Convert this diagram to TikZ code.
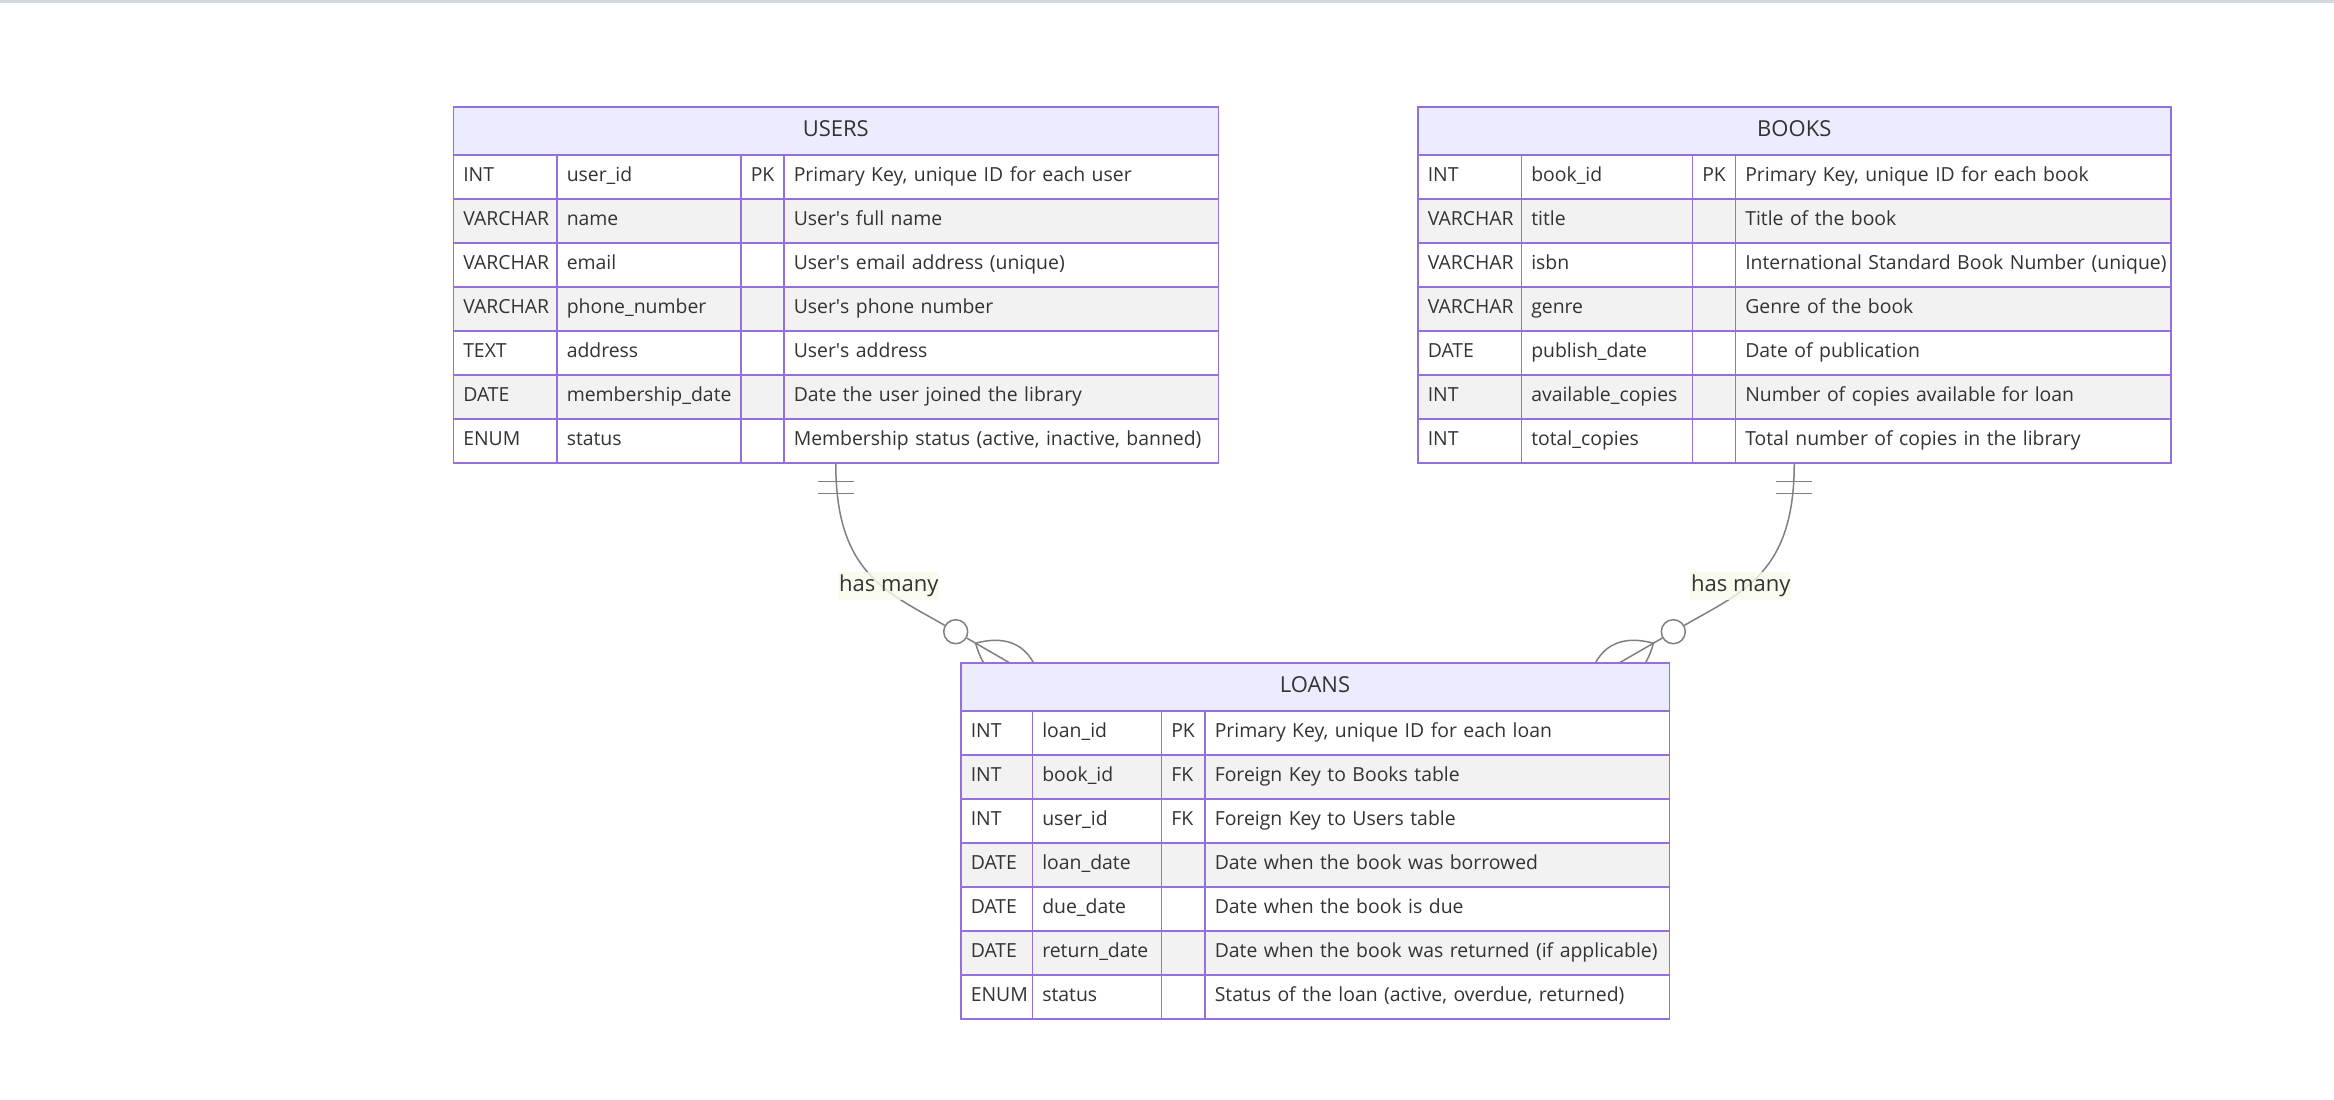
\documentclass[tikz,border=0pt]{standalone}
\usepackage{fontspec}
\setmainfont{Open Sans}
\usepackage{tikz}
\usetikzlibrary{backgrounds}
\definecolor{erline}{HTML}{9370DB}
\definecolor{erhead}{HTML}{ECECFF}
\definecolor{rowgray}{HTML}{F2F2F2}
\definecolor{ertext}{HTML}{333333}
\definecolor{relgray}{HTML}{808080}
\definecolor{labelbg}{HTML}{F7FAEA}
\definecolor{topline}{HTML}{D3D8E0}

\begin{document}
\begin{tikzpicture}[
        x=1pt, y=-1pt,
        font=\fontsize{19.4}{24}\selectfont, text=ertext,
        tablehead/.style={rectangle, draw=erline, line width=1.5pt, fill=erhead, anchor=north west, minimum height=48pt, inner sep=0pt, font=\fontsize{22}{26}\selectfont, text height=17.4pt, text depth=6pt},
        cell/.style={rectangle, draw=erline, line width=1.5pt, anchor=north west, minimum height=44pt, inner xsep=10pt, inner ysep=0pt, align=left, text height=16pt, text depth=6pt},
        rel/.style={draw=relgray, line width=1.5pt},
        zeroring/.style={circle, draw=relgray, line width=1.5pt, fill=white, minimum size=24pt, inner sep=0pt},
        rellabel/.style={fill=labelbg, fill opacity=0.8, text opacity=1, inner xsep=1pt, inner ysep=3pt, font=\fontsize{22}{26}\selectfont, text height=17pt, text depth=5pt}
    ]
    \useasboundingbox (0,0) rectangle (2334,1100);

    % USERS table
    \node[tablehead, minimum width=765pt] (users) at (452.5,106) {USERS};
    \foreach \ty/\fd/\ky/\cm [count=\i] in {
        INT/user\_id/PK/{Primary Key, unique ID for each user},
        VARCHAR/name//{User\textquotesingle s full name},
        VARCHAR/email//{User\textquotesingle s email address (unique)},
        VARCHAR/phone\_number//{User\textquotesingle s phone number},
        TEXT/address//{User\textquotesingle s address},
        DATE/membership\_date//{Date the user joined the library},
        ENUM/status//{Membership status (active, inactive, banned)}
    }{
        \ifodd\i \def\rowfill{white}\else \def\rowfill{rowgray}\fi
        \node[cell, fill=\rowfill, text width=83.5pt] (users-t\i) at (452.5,110+44*\i) {\ty};
        \node[cell, fill=\rowfill, text width=164pt] (users-f\i) at (556,110+44*\i) {\fd};
        \node[cell, fill=\rowfill, text width=23pt] (users-k\i) at (740,110+44*\i) {\mbox{\ky}};
        \node[cell, fill=\rowfill, text width=414.5pt] (users-c\i) at (783,110+44*\i) {\mbox{\cm}};
    }

    % BOOKS table
    \node[tablehead, minimum width=753pt] (books) at (1417,106) {BOOKS};
    \foreach \ty/\fd/\ky/\cm [count=\i] in {
        INT/book\_id/PK/{Primary Key, unique ID for each book},
        VARCHAR/title//{Title of the book},
        VARCHAR/isbn//{International Standard Book Number (unique)},
        VARCHAR/genre//{Genre of the book},
        DATE/publish\_date//{Date of publication},
        INT/available\_copies//{Number of copies available for loan},
        INT/total\_copies//{Total number of copies in the library}
    }{
        \ifodd\i \def\rowfill{white}\else \def\rowfill{rowgray}\fi
        \node[cell, fill=\rowfill, text width=83.5pt] (books-t\i) at (1417,110+44*\i) {\ty};
        \node[cell, fill=\rowfill, text width=151pt] (books-f\i) at (1520.5,110+44*\i) {\fd};
        \node[cell, fill=\rowfill, text width=23pt] (books-k\i) at (1691.5,110+44*\i) {\mbox{\ky}};
        \node[cell, fill=\rowfill, text width=415.5pt] (books-c\i) at (1734.5,110+44*\i) {\mbox{\cm}};
    }

    % LOANS table
    \node[tablehead, minimum width=708.5pt] (loans) at (960,662) {LOANS};
    \foreach \ty/\fd/\ky/\cm [count=\i] in {
        INT/loan\_id/PK/{Primary Key, unique ID for each loan},
        INT/book\_id/FK/{Foreign Key to Books table},
        INT/user\_id/FK/{Foreign Key to Users table},
        DATE/loan\_date//{Date when the book was borrowed},
        DATE/due\_date//{Date when the book is due},
        DATE/return\_date//{Date when the book was returned (if applicable)},
        ENUM/status//{Status of the loan (active, overdue, returned)}
    }{
        \ifodd\i \def\rowfill{white}\else \def\rowfill{rowgray}\fi
        \node[cell, fill=\rowfill, text width=51.5pt] (loans-t\i) at (960,666+44*\i) {\ty};
        \node[cell, fill=\rowfill, text width=109pt] (loans-f\i) at (1031.5,666+44*\i) {\fd};
        \node[cell, fill=\rowfill, text width=23.5pt] (loans-k\i) at (1160.5,666+44*\i) {\mbox{\ky}};
        \node[cell, fill=\rowfill, text width=444.5pt] (loans-c\i) at (1204,666+44*\i) {\mbox{\cm}};
    }

    % relationships, behind the tables
    \begin{scope}[on background layer]
        \fill[white] (0,0) rectangle (2334,1100);
        \fill[topline] (0,0) rectangle (2334,2.5);
        \coordinate (ustart) at (users |- users-c7.south);
        \coordinate (bstart) at (books |- books-c7.south);
        \node[zeroring] (uring) at (955.7,631.7) {};
        \node[zeroring] (bring) at (1673.3,631.7) {};

        \draw[rel] (ustart) .. controls +(0,110) and +(-69.3,-40) .. (uring);
        \draw[rel] (ustart) ++(-18,18) -- ++(36,0) (ustart) ++(-18,30) -- ++(36,0);
        \begin{scope}[shift={(uring)}, rotate=-30]
            \coordinate (utip) at (98,0);
            \draw[rel] (23,0) .. controls (48,-25) and (73,-25) .. (utip) .. controls (73,25) and (48,25) .. (23,0);
        \end{scope}
        \draw[rel] (uring) -- (utip);

        \draw[rel] (bstart) .. controls +(0,110) and +(69.3,-40) .. (bring);
        \draw[rel] (bstart) ++(-18,18) -- ++(36,0) (bstart) ++(-18,30) -- ++(36,0);
        \begin{scope}[shift={(bring)}, rotate=-150]
            \coordinate (btip) at (98,0);
            \draw[rel] (23,0) .. controls (48,-25) and (73,-25) .. (btip) .. controls (73,25) and (48,25) .. (23,0);
        \end{scope}
        \draw[rel] (bring) -- (btip);
    \end{scope}

    \node[rellabel] (ulabel) at (888.8,585.8) {has many};
    \node[rellabel] (blabel) at (1740.8,585.8) {has many};
\end{tikzpicture}
\end{document}
